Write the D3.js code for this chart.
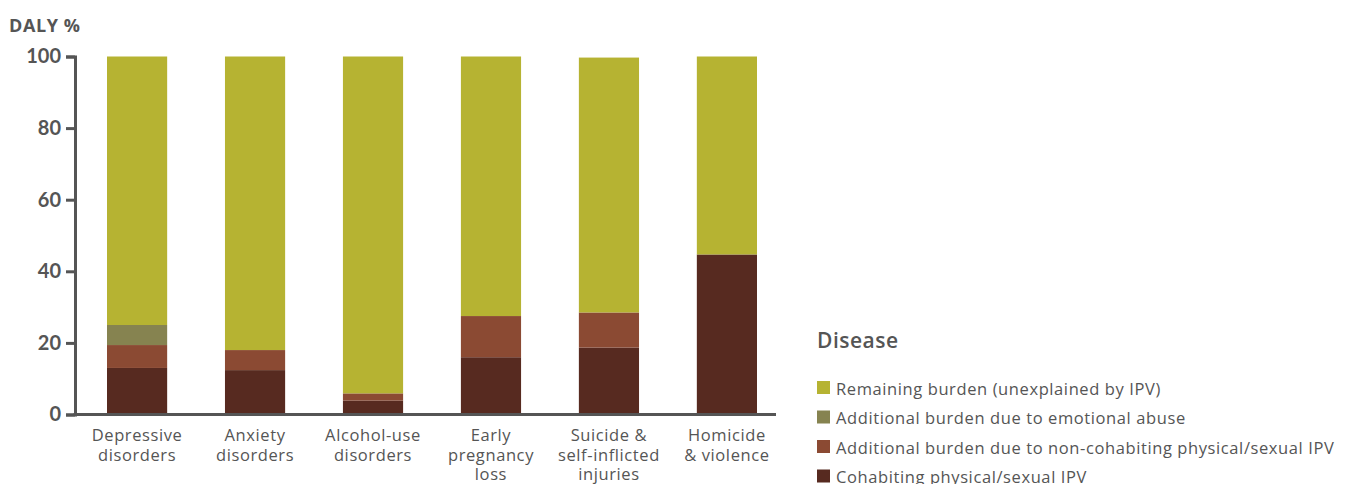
<!DOCTYPE html>
<html><head><meta charset="utf-8">
<script src="https://cdn.jsdelivr.net/npm/d3@7"></script>
<style>
body{margin:0;background:#fff;}
text{font-family:"Open Sans",Lato,sans-serif;fill:#555;}
</style></head>
<body><svg id="c" width="1352" height="484"></svg>
<script>
const categories = [["Depressive","disorders"],["Anxiety","disorders"],["Alcohol-use","disorders"],["Early","pregnancy","loss"],["Suicide &","self-inflicted","injuries"],["Homicide","& violence"]];
const cohabiting = [13.0, 12.4, 3.9, 16.0, 18.7, 44.7];
const nonCohabiting = [6.4, 5.6, 2.0, 11.5, 9.8, 0];
const emotional = [5.6, 0, 0, 0, 0, 0];
const remaining = [75.0, 82.0, 94.1, 72.5, 71.2, 55.3];
const seriesNames = ["Cohabiting physical/sexual IPV","Additional burden due to non-cohabiting physical/sexual IPV","Additional burden due to emotional abuse","Remaining burden (unexplained by IPV)"];
const seriesColors = ["#572a20","#8b4a33","#868350","#b6b332"];
const yTicks = [0,20,40,60,80,100];

const svg = d3.select("#c");
const keys = ["c","n","e","r"];
const rows = categories.map((c,i)=>({id:i,c:cohabiting[i],n:nonCohabiting[i],e:emotional[i],r:remaining[i]}));
const stack = d3.stack().keys(keys)(rows);

const x = d3.scaleBand().domain(d3.range(categories.length)).range([107,757]).paddingInner(0.49).paddingOuter(0);
const y = d3.scaleLinear().domain([0,100]).range([414.5,56.5]);

stack.forEach((layer,k)=>{
  svg.append("g").selectAll("rect").data(layer).join("rect")
    .attr("x",(d,i)=>x(i)).attr("width",x.bandwidth())
    .attr("y",d=>y(d[1])).attr("height",d=>y(d[0])-y(d[1]))
    .attr("fill",seriesColors[k]);
});

// y axis
const ya = svg.append("g").attr("transform","translate(75,0)")
  .call(d3.axisLeft(y).tickValues(yTicks).tickSize(9).tickPadding(5));
ya.attr("font-family",null);
ya.select(".domain").attr("stroke","#555").attr("stroke-width",3);
ya.selectAll(".tick line").attr("stroke","#555").attr("stroke-width",3);
ya.selectAll(".tick text").style("font-family","Lato,sans-serif").style("font-size","20px").style("font-weight","700").attr("fill","#555");

// x axis line
svg.append("line").attr("x1",73.5).attr("x2",776).attr("y1",y(0)).attr("y2",y(0)).attr("stroke","#555").attr("stroke-width",3);

// category labels
categories.forEach((lines,i)=>{
  const cx = x(i)+x.bandwidth()/2;
  const t = svg.append("text").attr("x",cx).attr("text-anchor","middle").style("font-size","16.5px").style("letter-spacing","0.6px");
  lines.forEach((l,j)=>t.append("tspan").attr("x",cx).attr("y",441+j*19.5).text(l));
});

svg.append("text").attr("x",9).attr("y",32).style("font-size","18px").style("font-weight","700").style("letter-spacing","0.6px").text("DALY %");

// legend
svg.append("text").attr("x",817).attr("y",348).style("font-size","21px").style("font-weight","600").style("letter-spacing","0.5px").text("Disease");
const legOrder = [3,2,1,0];
legOrder.forEach((k,j)=>{
  const yy = 381 + j*29.5;
  svg.append("rect").attr("x",817).attr("y",yy).attr("width",13).attr("height",13).attr("fill",seriesColors[k]);
  svg.append("text").attr("x",836).attr("y",yy+13.5).style("font-size","16.5px").style("letter-spacing","0.6px").text(seriesNames[k]);
});
</script></body></html>
